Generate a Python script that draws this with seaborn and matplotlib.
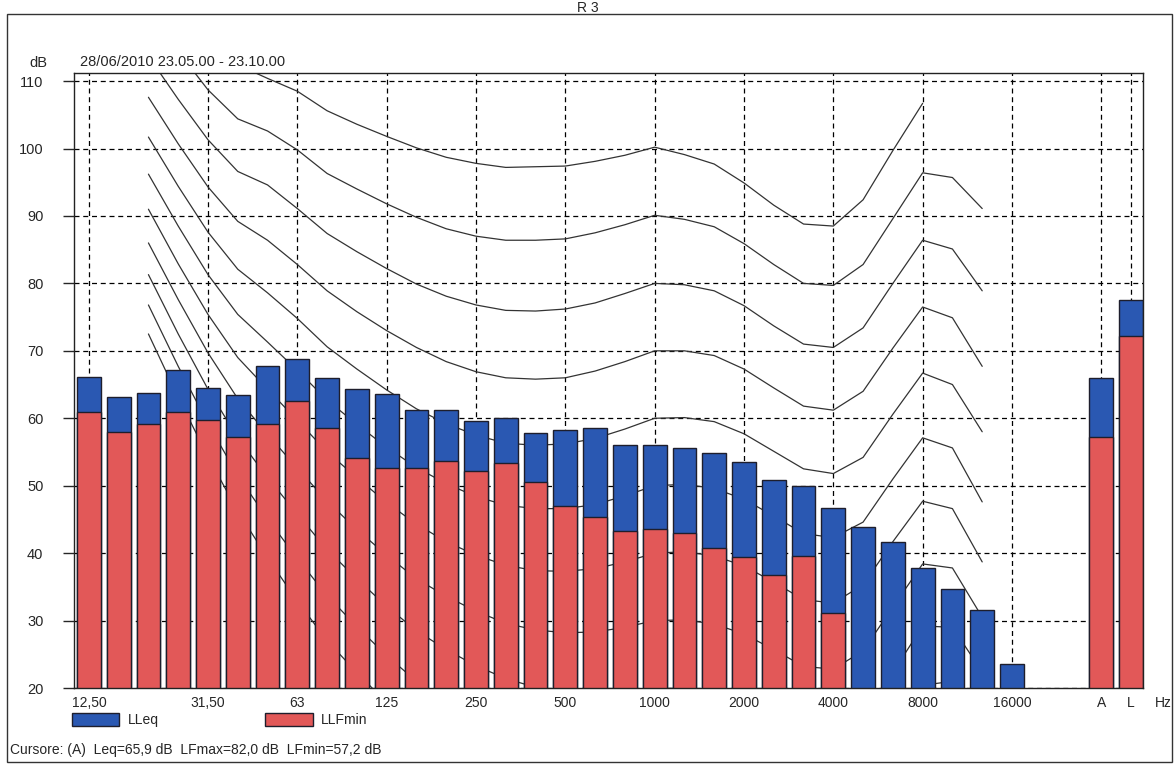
import numpy as np
import pandas as pd
import matplotlib
matplotlib.use("Agg")
import matplotlib.pyplot as plt
from matplotlib.patches import Rectangle, Patch
import seaborn as sns

# third-octave bands + the two overall values
bands = ["12.5", "16", "20", "25", "31.5", "40", "50", "63", "80", "100",
         "125", "160", "200", "250", "315", "400", "500", "630", "800", "1000",
         "1250", "1600", "2000", "2500", "3150", "4000", "5000", "6300", "8000",
         "10000", "12500", "16000", "A", "L"]

lleq = [66.1, 63.1, 63.8, 67.2, 64.5, 63.5, 67.8, 68.8, 66.0, 64.4,
        63.6, 61.2, 61.2, 59.6, 60.0, 57.8, 58.3, 58.5, 56.0, 56.0,
        55.6, 54.9, 53.5, 50.9, 50.0, 46.7, 43.9, 41.6, 37.8, 34.7,
        31.5, 23.6, 65.9, 77.5]

llfmin = [60.9, 57.9, 59.2, 61.0, 59.7, 57.2, 59.1, 62.6, 58.5, 54.1,
          52.6, 52.6, 53.6, 52.2, 53.4, 50.6, 47.0, 45.3, 43.3, 43.6,
          43.0, 40.8, 39.5, 36.8, 39.6, 31.1, np.nan, np.nan, np.nan, np.nan,
          np.nan, np.nan, 57.2, 72.2]

# equal loudness contours, 20 Hz .. 12500 Hz
contour_bands = bands[2:31]
iso_100 = [127.2, 121.9, 116.6, 112.4, 110.4, 108.5, 105.6, 103.6, 101.8, 100.1,
           98.7, 97.8, 97.2, 97.3, 97.4, 98.1, 99.0, 100.2, 99.1, 97.7,
           94.9, 91.6, 88.8, 88.5, 92.4, 99.7, 106.7, np.nan, np.nan]
iso_90 = [120.3, 114.4, 108.7, 104.4, 102.6, 99.8, 96.3, 94.0, 91.8, 89.8,
          88.1, 87.0, 86.4, 86.4, 86.6, 87.5, 88.7, 90.1, 89.5, 88.4,
          85.9, 82.8, 80.0, 79.7, 82.8, 89.6, 96.4, 95.7, 91.1]
iso_80 = [113.7, 107.3, 101.3, 96.6, 94.6, 91.1, 87.4, 84.7, 82.2, 79.9,
          78.1, 76.8, 76.0, 75.9, 76.2, 77.1, 78.5, 80.0, 79.8, 78.9,
          76.7, 73.7, 71.0, 70.5, 73.4, 80.0, 86.4, 85.1, 78.9]
iso_70 = [107.6, 100.7, 94.3, 89.2, 86.4, 82.8, 78.9, 75.8, 73.0, 70.5,
          68.4, 66.9, 66.0, 65.8, 66.0, 67.0, 68.4, 70.0, 70.0, 69.3,
          67.3, 64.5, 61.8, 61.2, 64.0, 70.4, 76.5, 74.9, 67.7]
iso_60 = [101.7, 94.4, 87.6, 82.1, 78.6, 74.8, 70.6, 67.3, 64.2, 61.4,
          59.2, 57.5, 56.3, 56.0, 56.2, 57.0, 58.4, 60.0, 60.1, 59.5,
          57.7, 55.1, 52.5, 51.8, 54.2, 60.6, 66.7, 65.0, 58.0]
iso_50 = [96.2, 88.5, 81.3, 75.4, 71.3, 67.1, 62.7, 59.1, 55.7, 52.7,
          50.3, 48.4, 47.1, 46.6, 46.6, 47.2, 48.5, 50.0, 50.2, 49.6,
          48.0, 45.5, 42.9, 42.3, 44.6, 51.0, 57.1, 55.6, 47.6]
iso_40 = [91.0, 82.9, 75.4, 69.0, 64.3, 59.7, 55.0, 51.2, 47.5, 44.3,
          41.7, 39.7, 38.2, 37.4, 37.3, 37.7, 38.7, 40.0, 40.2, 39.6,
          38.1, 35.7, 33.1, 32.6, 35.3, 41.7, 47.7, 46.6, 38.7]
iso_30 = [86.0, 77.6, 69.7, 62.9, 57.6, 52.6, 47.7, 43.5, 39.7, 36.2,
          33.6, 31.4, 29.6, 28.6, 28.2, 28.3, 29.0, 30.0, 30.1, 29.5,
          28.0, 25.7, 23.2, 22.8, 25.5, 32.0, 38.4, 37.8, 30.5]
iso_20 = [81.3, 72.5, 64.3, 57.1, 51.2, 45.8, 40.5, 36.2, 32.1, 28.5,
          25.7, 23.3, 21.4, 20.1, 19.4, 19.1, 19.4, 20.0, 19.9, 19.2,
          17.7, 15.4, 13.0, 12.6, 15.5, 22.3, 29.2, 29.0, 22.4]
iso_10 = [76.8, 67.7, 59.2, 51.5, 45.1, 39.2, 33.7, 29.1, 24.8, 21.0,
          18.1, 15.6, 13.4, 11.9, 10.9, 10.1, 9.9, 10.0, 9.7, 8.7,
          7.2, 5.0, 2.5, 2.3, 5.3, 12.4, 20.4, 21.0, 15.5]
iso_0 = [72.5, 63.1, 54.3, 46.2, 39.3, 32.9, 27.0, 22.3, 17.8, 13.8,
         10.8, 8.1, 5.7, 3.9, 2.5, 1.3, 0.5, 0.0, -0.7, -1.9,
         -3.5, -5.7, -8.1, -8.2, -5.0, 2.6, 11.6, 13.1, 8.8]

tick_bands = ["12.5", "31.5", "63", "125", "250", "500", "1000", "2000",
              "4000", "8000", "16000", "A", "L"]
tick_labels = ["12,50", "31,50", "63", "125", "250", "500", "1000", "2000",
               "4000", "8000", "16000", "A", "L"]

BLUE = "#2a58b2"
RED = "#e25858"
EDGE = "#1e1e2c"

# x slot of each band: octave bands side by side, gap of two before A and L
slot = {b: i for i, b in enumerate(bands[:32])}
slot["A"] = 34
slot["L"] = 35

bars = pd.DataFrame({"band": bands, "lleq": lleq, "llfmin": llfmin})
bars["x"] = bars["band"].map(slot)

curves = []
for phon, vals in [(100, iso_100), (90, iso_90), (80, iso_80), (70, iso_70),
                   (60, iso_60), (50, iso_50), (40, iso_40), (30, iso_30),
                   (20, iso_20), (10, iso_10), (0, iso_0)]:
    curves.append(pd.DataFrame({"band": contour_bands, "dB": vals, "phon": phon}))
curves = pd.concat(curves).dropna()
curves["x"] = curves["band"].map(slot)

sns.set_style("ticks")
plt.rcParams["font.family"] = ["Liberation Sans", "DejaVu Sans"]
plt.rcParams["font.size"] = 10

fig = plt.figure(figsize=(11.76, 7.65), dpi=100)
ax = fig.add_axes([74 / 1176, 1 - 688 / 765, (1143 - 74) / 1176, (688 - 73) / 765])

sns.lineplot(data=curves, x="x", y="dB", units="phon", estimator=None,
             sort=False, color="#333333", linewidth=0.9, legend=False,
             ax=ax, zorder=1.5)

sns.barplot(data=bars, x="x", y="lleq", native_scale=True, color=BLUE,
            saturation=1, edgecolor=EDGE, linewidth=1, errorbar=None,
            ax=ax, zorder=2)
sns.barplot(data=bars.dropna(), x="x", y="llfmin", native_scale=True, color=RED,
            saturation=1, edgecolor=EDGE, linewidth=1, errorbar=None,
            ax=ax, zorder=2.1)

ax.set_xlim(-0.5, 35.4)
ax.set_ylim(20, 111.2)
ax.set_yticks(range(20, 111, 10))
ax.set_xticks([slot[b] for b in tick_bands])
ax.set_xticklabels(tick_labels)
ax.tick_params(axis="x", length=0, pad=6, labelsize=10)
ax.tick_params(axis="y", length=8, width=1, direction="out", pad=14, labelsize=10.5)
ax.set_xlabel("")
ax.set_ylabel("")
ax.set_axisbelow(True)
ax.grid(True, color="black", linestyle=(0, (4, 3)), linewidth=0.9)
for sp in ax.spines.values():
    sp.set_visible(True)
    sp.set_color("#222222")
    sp.set_linewidth(1)

fig.text(588 / 1176, 1 - 8 / 765, "R 3", ha="center", va="center", fontsize=10)
fig.text(38 / 1176, 1 - 63 / 765, "dB", ha="center", va="center", fontsize=10.5)
fig.text(80 / 1176, 1 - 62 / 765, "28/06/2010 23.05.00 - 23.10.00",
         ha="left", va="center", fontsize=10.5)
fig.text(1163 / 1176, 1 - 703 / 765, "Hz", ha="center", va="center", fontsize=10)
fig.text(10 / 1176, 1 - 750 / 765,
         "Cursore: (A)  Leq=65,9 dB  LFmax=82,0 dB  LFmin=57,2 dB",
         ha="left", va="center", fontsize=10)

handles = [Patch(facecolor=BLUE, edgecolor=EDGE, label="LLeq"),
           Patch(facecolor=RED, edgecolor=EDGE, label="LLFmin")]
fig.legend(handles=handles, loc="upper left", bbox_to_anchor=(65 / 1176, 1 - 706 / 765),
           ncol=2, frameon=False, borderpad=0, handlelength=3.4, handleheight=1.1,
           handletextpad=0.6, columnspacing=7.7, fontsize=10)

fig.patches.append(Rectangle((7 / 1176, 3 / 765), 1165 / 1176, 748 / 765,
                             transform=fig.transFigure, fill=False,
                             edgecolor="#333333", linewidth=1))

fig.savefig("out.png", dpi=100)
